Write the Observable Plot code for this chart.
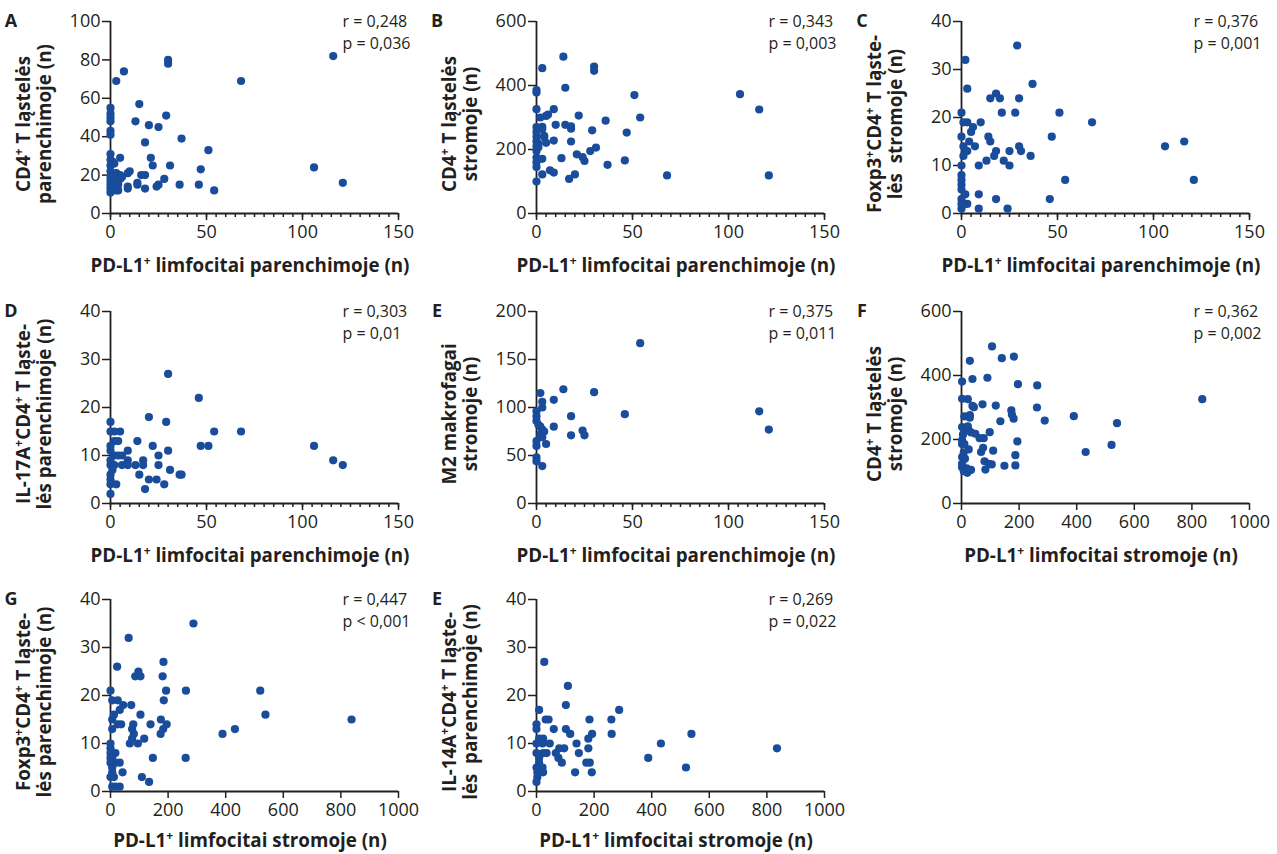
<!DOCTYPE html>
<html><head><meta charset="utf-8">
<script src="https://cdn.jsdelivr.net/npm/d3@7"></script>
<script src="https://cdn.jsdelivr.net/npm/@observablehq/plot@0.6"></script>
<style>
body{margin:0;background:#fff;}
#wrap{position:relative;width:1277px;height:854px;overflow:hidden;background:#fff;font-family:"Open Sans",sans-serif;}
#wrap svg{position:absolute;overflow:visible;}
</style></head><body><div id="wrap"></div>
<script>
const dotColor = "#1a4c9c";
const inkColor = "#231f20";

// ---- data (x = PD-L1+ count, y = cell count) ----
const dataA = [[0,55],[0,52],[0,50],[0,48],[0,43],[0,41],[0,31],[0,28],[0,25],[0,22],[0,19],[0,17],[0,15],[0,13],[0,11],
[1,27],[2,26],[1,20],[2,18],[1,16],[2,14],[3,12],[3,21],[2,13],[4,15],[4,17],[3,19],[4,12],
[3,69],[7,74],[5,29],[5,18],[6,19],[5,20],
[9,14],[9,13],[9,21],[10,22],[13,48],[14,15],[14,16],[15,57],[16,20],[18,20],[18,13],[18,37],[20,46],[21,29],[22,25],[24,14],[25,15],[25,45],[28,18],[29,51],[30,80],[30,78],[31,25],[36,15],[37,39],[46,15],[47,23],[51,33],[54,12],[68,69],[106,24],[116,82],[121,16]];
const dataB = [[0,386],[0,378],[0,326],[0,270],[0,255],[0,240],[0,225],[0,210],[0,195],[0,175],[0,160],[0,145],[0,100],
[14,490],[3,454],[30,459],[30,446],[15,393],[51,370],[106,373],[116,325],[9,326],[6,309],[5,305],[2,300],[22,306],[54,300],[36,290],[10,277],[15,277],[18,272],[18,265],[3,271],[3,264],[29,260],[47,253],[4,243],[4,238],[9,228],[18,225],[5,221],[1,218],[1,207],[31,206],[28,195],[21,185],[24,176],[25,164],[13,173],[3,171],[46,166],[37,152],[7,135],[9,128],[3,122],[20,122],[17,108],[68,119],[121,119]];
const dataC = [[29,35],[2,32],[3,26],[37,27],[15,24],[18,25],[20,24],[30,24],[21,21],[28,21],[51,21],[0,21],[68,19],[10,19],[3,19],[1,19],[6,18],[5,17],[0,16],[14,16],[15,15],[47,16],[4,15],[7,14],[106,14],[116,15],[1,14],[2,13],[1,12],[3,13],[30,14],[31,13],[18,13],[17,12],[25,13],[36,12],[13,11],[22,11],[9,10],[25,10],[0,10],[0,8],[0,7],[0,6],[0,5],[54,7],[121,7],[9,4],[2,4],[18,3],[46,3],[3,2],[9,1],[24,1],[0,1],[1,2],[0,3],[0,2]];
const dataD = [[30,27],[46,22],[20,18],[29,17],[0,17],[0,15],[2,15],[5,15],[54,15],[68,15],[2,13],[4,13],[14,13],[22,12],[47,12],[51,12],[106,12],[9,11],[30,11],[0,11],[0,12],[25,10],[2,10],[4,10],[6,10],[116,9],[17,9],[121,8],[9,9],[9,8],[13,8],[6,8],[2,8],[0,9],[0,8],[17,8],[25,8],[31,7],[36,6],[37,6],[15,6],[20,5],[24,5],[28,4],[3,4],[18,3],[0,6],[0,5],[0,4],[0,2],[1,7]];
const dataE = [[54,167],[14,119],[30,116],[2,115],[3,106],[3,100],[9,108],[0,96],[0,91],[0,86],[18,91],[46,93],[116,96],[121,77],[9,80],[2,80],[3,77],[4,75],[18,71],[24,76],[25,71],[5,62],[3,69],[0,65],[0,60],[0,48],[3,39],[0,44],[1,82],[2,72]];
const dataF = [[106,491],[29,446],[140,454],[182,459],[90,393],[38,389],[2,381],[196,373],[263,369],[836,326],[2,327],[22,326],[38,305],[43,301],[73,310],[119,306],[262,300],[173,291],[175,278],[181,265],[10,272],[29,276],[29,268],[135,257],[289,259],[390,273],[540,251],[2,239],[10,233],[22,241],[25,228],[33,222],[48,218],[98,223],[63,204],[77,204],[2,197],[2,186],[194,194],[10,186],[25,169],[75,174],[68,161],[110,165],[8,160],[2,145],[431,161],[521,183],[187,151],[80,132],[95,124],[105,122],[149,118],[187,119],[83,106],[33,105],[20,96],[8,101],[2,113],[2,124],[5,215],[12,140],[18,110]];
const dataG = [[288,35],[63,32],[23,26],[184,27],[97,25],[86,24],[104,24],[181,24],[193,21],[262,21],[520,21],[0,21],[185,19],[6,19],[25,19],[72,18],[44,18],[32,17],[104,16],[538,16],[837,15],[12,16],[6,15],[175,15],[25,14],[37,14],[139,14],[195,14],[79,14],[75,13],[183,13],[6,13],[432,13],[389,12],[81,12],[174,12],[75,11],[117,11],[67,10],[95,10],[0,10],[17,8],[147,7],[261,7],[6,7],[32,6],[17,6],[42,4],[6,5],[6,4],[12,3],[109,3],[134,2],[6,1],[17,1],[32,1],[0,9],[0,8],[0,7],[0,6],[0,3]];
const dataE2 = [[27,27],[109,22],[102,18],[9,17],[287,17],[32,15],[42,15],[184,15],[260,15],[0,14],[0,13],[60,13],[102,13],[117,12],[193,12],[180,11],[261,12],[538,12],[9,11],[23,11],[46,10],[139,10],[432,10],[0,10],[21,10],[96,9],[79,9],[180,9],[835,9],[67,8],[35,8],[23,8],[147,8],[0,8],[9,7],[76,7],[388,7],[88,6],[173,6],[185,6],[9,6],[21,5],[23,4],[134,4],[192,4],[519,5],[0,5],[3,4],[3,3],[0,2]];

// ---- ticks ----
const ticksX150 = [0, 50, 100, 150];
const minorX150 = d3.range(0, 151, 5);
const ticksX1000 = [0, 200, 400, 600, 800, 1000];
const ticksY100 = [0, 20, 40, 60, 80, 100];
const ticksY600 = [0, 200, 400, 600];
const ticksY40 = [0, 10, 20, 30, 40];
const ticksY200 = [0, 50, 100, 150, 200];

// ---- labels ----
const xLabPar = "PD-L1⁺ limfocitai parenchimoje (n)";
const xLabStr = "PD-L1⁺ limfocitai stromoje (n)";
const stats = {
  A: ["r = 0,248", "p = 0,036"], B: ["r = 0,343", "p = 0,003"], C: ["r = 0,376", "p = 0,001"],
  D: ["r = 0,303", "p = 0,01"], E: ["r = 0,375", "p = 0,011"], F: ["r = 0,362", "p = 0,002"],
  G: ["r = 0,447", "p < 0,001"], E2: ["r = 0,269", "p = 0,022"]
};

const colLeft = [110, 536, 961];
const rowTop = [21, 311, 599];
const xTitleOffset = [59, 59, 56];

const panels = [
  {letter:"A", col:0, row:0, data:dataA, xMax:150, xTicks:ticksX150, minor:minorX150, yMax:100, yTicks:ticksY100, yLab:["CD4⁺ T ląstelės","parenchimoje (n)"], xLab:xLabPar, st:stats.A},
  {letter:"B", col:1, row:0, data:dataB, xMax:150, xTicks:ticksX150, minor:minorX150, yMax:600, yTicks:ticksY600, yLab:["CD4⁺ T ląstelės","stromoje (n)"], xLab:xLabPar, st:stats.B},
  {letter:"C", col:2, row:0, data:dataC, xMax:150, xTicks:ticksX150, minor:minorX150, yMax:40, yTicks:ticksY40, yLab:["Foxp3⁺CD4⁺ T ląste-","lės  stromoje (n)"], xLab:xLabPar, st:stats.C},
  {letter:"D", col:0, row:1, data:dataD, xMax:150, xTicks:ticksX150, minor:minorX150, yMax:40, yTicks:ticksY40, yLab:["IL-17A⁺CD4⁺ T ląste-","lės parenchimoje (n)"], xLab:xLabPar, st:stats.D},
  {letter:"E", col:1, row:1, data:dataE, xMax:150, xTicks:ticksX150, minor:minorX150, yMax:200, yTicks:ticksY200, yLab:["M2 makrofagai","stromoje (n)"], xLab:xLabPar, st:stats.E},
  {letter:"F", col:2, row:1, data:dataF, xMax:1000, xTicks:ticksX1000, minor:null, yMax:600, yTicks:ticksY600, yLab:["CD4⁺ T ląstelės","stromoje (n)"], xLab:xLabStr, st:stats.F},
  {letter:"G", col:0, row:2, data:dataG, xMax:1000, xTicks:ticksX1000, minor:null, yMax:40, yTicks:ticksY40, yLab:["Foxp3⁺CD4⁺ T ląste-","lės parenchimoje (n)"], xLab:xLabStr, st:stats.G},
  {letter:"E", col:1, row:2, data:dataE2, xMax:1000, xTicks:ticksX1000, minor:null, yMax:40, yTicks:ticksY40, yLab:["IL-14A⁺CD4⁺ T ląste-","lės  parenchimoje (n)"], xLab:xLabStr, st:stats.E2}
];

function addRich(sel, str) {
  const parts = str.split("⁺");
  parts.forEach((p, i) => {
    const t = sel.append("tspan").text(p);
    if (i > 0) t.attr("dy", 7);
    if (i < parts.length - 1) {
      sel.append("tspan").attr("dy", -7).attr("font-size", 12).text("+");
    }
  });
}

const wrap = document.getElementById("wrap");
const W = 420, H = 290, ML = 110, MT = 20, FW = 288, FH = 192;

panels.forEach(cfg => {
  const marks = [];
  if (cfg.minor) marks.push(Plot.axisX({ticks: cfg.minor, tickSize: 4, text: null, strokeWidth: 1.5, label: null}));
  marks.push(
    Plot.axisX({ticks: cfg.xTicks, tickSize: 7, tickPadding: 5, strokeWidth: 1.5, label: null, tickFormat: d => String(d), fontSize: 18}),
    Plot.axisY({ticks: cfg.yTicks, tickSize: 8, tickPadding: 2, strokeWidth: 1.5, label: null, tickFormat: d => String(d), fontSize: 18}),
    Plot.ruleY([0], {strokeWidth: 1.8, stroke: inkColor}),
    Plot.ruleX([0], {strokeWidth: 1.8, stroke: inkColor}),
    Plot.dot(cfg.data, {x: d => d[0], y: d => d[1], r: 4.1, fill: dotColor, stroke: "none"}),
    Plot.text([cfg.st[0]], {frameAnchor: "top-left", dx: 232, dy: 0, lineAnchor: "middle", textAnchor: "start", fontSize: 16, fill: inkColor}),
    Plot.text([cfg.st[1]], {frameAnchor: "top-left", dx: 232, dy: 22, lineAnchor: "middle", textAnchor: "start", fontSize: 16, fill: inkColor})
  );
  const svg = Plot.plot({
    width: W, height: H,
    marginLeft: ML, marginRight: W - ML - FW, marginTop: MT, marginBottom: H - MT - FH,
    style: {fontFamily: "'Open Sans', sans-serif", fontSize: "18px", color: inkColor, background: "transparent", overflow: "visible"},
    x: {domain: [0, cfg.xMax], label: null},
    y: {domain: [0, cfg.yMax], label: null},
    marks
  });
  svg.style.left = (colLeft[cfg.col] - ML) + "px";
  svg.style.top = (rowTop[cfg.row] - MT) + "px";
  const s = d3.select(svg);
  s.append("text").attr("x", 11).attr("y", 26).attr("font-weight", 700).attr("font-size", 18)
    .attr("fill", inkColor).text(cfg.letter);
  const xt = s.append("text").attr("x", ML + FW / 2 - 4).attr("y", MT + FH + xTitleOffset[cfg.row])
    .attr("text-anchor", "middle").attr("font-weight", 700).attr("font-size", 18.8).attr("fill", inkColor)
    .style("white-space", "pre");
  addRich(xt, cfg.xLab);
  cfg.yLab.forEach((line, i) => {
    const t = s.append("text")
      .attr("transform", `translate(${ML - 80 + i * 21},${MT + FH / 2 + 7}) rotate(-90)`)
      .attr("text-anchor", "middle").attr("font-weight", 700).attr("font-size", 18.8).attr("fill", inkColor)
      .style("white-space", "pre");
    addRich(t, line);
  });
  wrap.appendChild(svg);
});
</script>
</body></html>
